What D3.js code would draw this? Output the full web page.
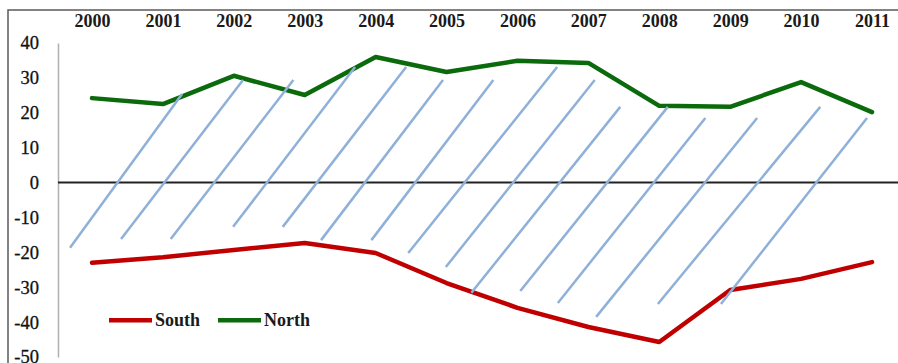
<!DOCTYPE html>
<html>
<head>
<meta charset="utf-8">
<script src="https://cdn.jsdelivr.net/npm/d3@7"></script>
<style>
  html, body { margin: 0; padding: 0; background: #fff; }
  svg { display: block; }
</style>
</head>
<body>
<svg id="chart" width="898" height="363"></svg>
<script>
// ---- data ----
const years = [2000, 2001, 2002, 2003, 2004, 2005, 2006, 2007, 2008, 2009, 2010, 2011];
const south = [-23.0, -21.4, -19.3, -17.3, -20.2, -28.8, -35.9, -41.4, -45.7, -30.8, -27.6, -22.8];
const north = [24.2, 22.5, 30.6, 25.1, 36.0, 31.7, 34.9, 34.3, 22.0, 21.7, 28.8, 20.2];
const yTicks = [40, 30, 20, 10, 0, -10, -20, -30, -40, -50];
const seriesNames = ["South", "North"];
const seriesColors = ["#c00000", "#0b6a0b"];

// diagonal hatch strokes between the two series, in year / value units
const hatchFromYear  = [1999.69, 2000.41, 2001.11, 2001.99, 2002.69, 2003.23, 2003.94, 2004.46, 2004.99, 2005.35, 2006.04, 2006.57, 2007.11, 2007.98, 2008.87];
const hatchFromValue = [-18.7, -16.2, -16.2, -12.7, -12.7, -16.5, -16.5, -20.2, -24.2, -31.6, -31.1, -34.5, -38.5, -34.8, -34.8];
const hatchToYear    = [2001.27, 2002.13, 2002.84, 2003.71, 2004.43, 2004.95, 2005.66, 2006.56, 2007.09, 2007.45, 2008.12, 2008.65, 2009.38, 2010.27, 2010.93];
const hatchToValue   = [25.4, 29.4, 29.4, 33.1, 33.1, 29.4, 29.4, 33.1, 29.4, 21.7, 21.7, 18.5, 18.5, 21.7, 18.5];

// ---- layout ----
const svg = d3.select("#chart");
const W = 898, H = 363;
const axisX = 58;

const x = d3.scaleLinear().domain([2000, 2011]).range([92, 872]);
const y = d3.scaleLinear().domain([40, -50]).range([43, 357]);

// outer frame (top and left edges)
svg.append("path")
  .attr("d", `M8,${H} L8,10 L${W},10`)
  .attr("fill", "none")
  .attr("stroke", "#5a5a5a")
  .attr("stroke-width", 1.5);

// year labels along the top
const xAxis = d3.axisTop(x).tickValues(years).tickFormat(d3.format("d")).tickSize(0).tickPadding(0);
const gx = svg.append("g").attr("transform", "translate(0,27)").call(xAxis);
gx.select(".domain").remove();
gx.selectAll("text")
  .attr("font-family", "'Liberation Serif', 'Times New Roman', serif")
  .attr("font-weight", "bold")
  .attr("font-size", 18)
  .attr("fill", "#1a1a1a")
  .attr("dy", 0);

// value axis on the left (plain hyphen for negatives)
const yAxis = d3.axisLeft(y).tickValues(yTicks).tickFormat(d => String(d)).tickSize(0).tickPadding(19);
const gy = svg.append("g").attr("transform", `translate(${axisX},0)`).call(yAxis);
gy.select(".domain").attr("stroke", "#b0b0b0").attr("stroke-width", 1.5);
gy.selectAll("text")
  .attr("font-family", "'Liberation Serif', 'Times New Roman', serif")
  .attr("font-size", 18.5)
  .attr("fill", "#111")
  .attr("stroke", "#111")
  .attr("stroke-width", 0.3);

// zero line
svg.append("line")
  .attr("x1", axisX).attr("x2", W)
  .attr("y1", y(0)).attr("y2", y(0))
  .attr("stroke", "#222")
  .attr("stroke-width", 2);

// series lines
const line = d3.line()
  .x((d, i) => x(years[i]))
  .y(d => y(d));

[south, north].forEach((vals, k) => {
  svg.append("path")
    .datum(vals)
    .attr("d", line)
    .attr("fill", "none")
    .attr("stroke", seriesColors[k])
    .attr("stroke-width", 4.5)
    .attr("stroke-linejoin", "round")
    .attr("stroke-linecap", "round");
});

// hatching
svg.append("g").selectAll("line")
  .data(d3.range(hatchFromYear.length))
  .join("line")
  .attr("x1", i => x(hatchFromYear[i]))
  .attr("y1", i => y(hatchFromValue[i]))
  .attr("x2", i => x(hatchToYear[i]))
  .attr("y2", i => y(hatchToValue[i]))
  .attr("stroke", "#8fb0d8")
  .attr("stroke-width", 2.5);

// legend
const legendX = [109, 218];
const legend = svg.append("g").attr("transform", `translate(0,${y(-39.5)})`);
seriesNames.forEach((name, k) => {
  legend.append("line")
    .attr("x1", legendX[k]).attr("x2", legendX[k] + 43)
    .attr("y1", 0).attr("y2", 0)
    .attr("stroke", seriesColors[k])
    .attr("stroke-width", 4.5);
  legend.append("text")
    .attr("x", legendX[k] + 46)
    .attr("y", 0)
    .attr("dy", "0.33em")
    .attr("font-family", "'Liberation Serif', 'Times New Roman', serif")
    .attr("font-weight", "bold")
    .attr("font-size", 18)
    .attr("fill", "#1a1a1a")
    .text(name);
});
</script>
</body>
</html>
